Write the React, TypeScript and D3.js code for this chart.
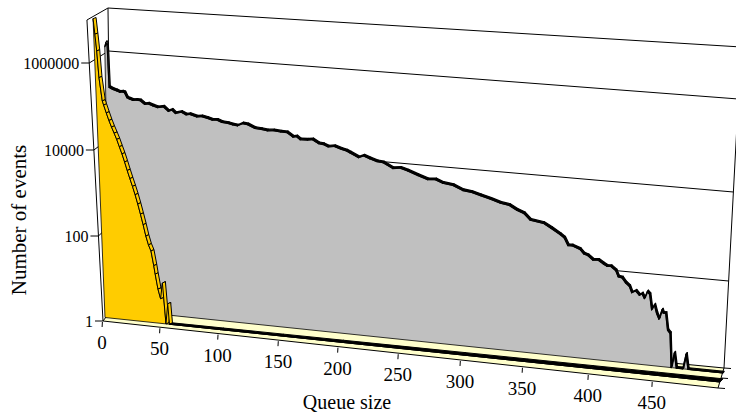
import React from "react";
import * as d3 from "d3";

const queueTicks = [0, 50, 100, 150, 200, 250, 300, 350, 400, 450];
const eventTicks = [1, 100, 10000, 1000000];

const grayQueue = [
  0, 1, 2, 3, 6, 9, 12, 14, 16, 18, 20, 23, 26, 29, 33, 36, 40, 44, 49, 53, 56, 59, 64, 68, 71, 77, 81, 86, 90, 94, 98, 103, 107, 111, 115, 119, 125, 130, 135, 140, 146, 151, 156, 159,
  162, 168, 172, 177, 181, 185, 190, 196, 200, 203, 210, 214, 219, 225, 230, 238, 244, 250, 258, 266, 272, 278, 286, 294, 301, 308, 316, 324, 331, 337, 343, 348, 358,
  364, 371, 374, 377, 380, 386, 389, 392, 396, 400, 404, 407, 410, 414, 416, 419, 422, 425, 427, 430, 433, 435, 437, 439, 441, 443, 445, 447, 449, 451, 452, 454, 456, 458,
  460, 462, 464, 469, 471, 473, 500,
];
const grayEvents = [
  1260000, 1580000, 1410000, 148000, 135000, 128000, 120000, 124000, 120000, 93000, 88000, 83000, 86000, 85000, 71000, 74000, 68000, 64000, 68000, 55000, 60000, 51000, 56000, 50000, 52000, 47000, 49000, 46000, 43000, 44000, 40000, 39000, 37000, 36000, 41000, 40000, 34000, 33500, 32000, 33000, 32000, 32000, 26000, 27000,
  23500, 24000, 25000, 21000, 20500, 18600, 19500, 17400, 16500, 15100, 12300, 13800, 12300, 11000, 10700, 8300, 8800, 7900, 6500, 5500, 5700, 4900, 4600, 3700, 3500, 3100, 2700, 2300, 2150, 1740, 1500, 1100, 1000,
  800, 600, 520, 355, 360, 310, 250, 235, 190, 195, 165, 148, 150, 123, 91, 88, 68, 58, 42, 47, 38, 42, 33, 48, 42, 19, 25, 16, 12, 20, 17, 17, 7, 6,
  1, 2.2, 1, 1, 2.2, 1, 1,
];

const yellowQueue = [0, 1, 2, 3, 5, 6, 8, 10, 12, 14, 16, 18, 20, 22, 24, 26, 28, 30, 32, 34, 36, 38, 40, 42, 44, 45, 47, 49, 51, 53, 55, 56, 100, 150, 200, 250, 300, 350, 400, 450, 500];
const yellowEvents = [8900000, 3900000, 1600000, 390000, 115000, 93000, 62000, 42000, 30000, 22000, 16000, 11000, 7600, 5000, 3200, 2100, 1400, 910, 560, 330, 190, 105, 66, 48, 22, 14, 6.3, 3.8, 9, 1, 3, 1, 1, 1, 1, 1, 1, 1, 1, 1, 1];

const W = 736;
const H = 414;
const FONT = "'Liberation Serif', 'Times New Roman', serif";

// perspective-ish mapping of the queue axis
const uScale = d3.scaleLinear().domain([0, 50, 100, 150, 200, 250, 300, 350, 400, 450, 500])
  .range([0, 0.0935, 0.188, 0.286, 0.383, 0.481, 0.582, 0.683, 0.79, 0.894, 1]);
const decades = [0, 2, 4, 6, 7];
const heightLeft = d3.scaleLinear().domain(decades).range([0, 85, 171, 258, 301]);
const heightRight = d3.scaleLinear().domain(decades).range([0, 87, 176, 269, 321]);

type Plane = { x0: number; y0: number; x1: number; y1: number; tL: number; tR: number };
const frontPlane: Plane = { x0: 103, y0: 321, x1: 718, y1: 388, tL: -16, tR: 16 };
const backPlane: Plane = { x0: 112, y0: 309, x1: 724, y1: 368, tL: -4, tR: 16 };
const grayPlane: Plane = { x0: 110, y0: 309, x1: 723, y1: 373, tL: -6, tR: 16 };
const yellowPlane: Plane = { x0: 105, y0: 317.5, x1: 720, y1: 382, tL: -12, tR: 16 };

const lerp = (a: number, b: number, t: number) => a + (b - a) * t;
function proj(p: Plane, q: number, v: number): [number, number] {
  const u = uScale(q);
  const L = Math.log10(v);
  const h = lerp(heightLeft(L), heightRight(L), u);
  const tilt = (lerp(p.tL, p.tR, u) * h) / 300;
  return [lerp(p.x0, p.x1, u) + tilt, lerp(p.y0, p.y1, u) - h];
}
const line = d3.line<[number, number]>();
const closed = (pts: [number, number][]) => (line(pts) as string) + "Z";

function Series({ plane, qs, vs, fill, dx, dy0, dy1, solidFrom, sw }: { plane: Plane; qs: number[]; vs: number[]; fill: string; dx: number; dy0: number; dy1: number; solidFrom: number; sw: number }) {
  const top = qs.map((q, i) => proj(plane, q, vs[i]));
  const area: [number, number][] = [proj(plane, qs[0], 1), ...top, proj(plane, qs[qs.length - 1], 1)];
  const off = (q: number, p: [number, number]): [number, number] => [p[0] + dx, p[1] - lerp(dy0, dy1, uScale(q))];
  return (
    <g>
      <path d={closed(area)} fill={fill} stroke="#000" strokeWidth={0.8} />
      {top.slice(0, -1).map((p, i) => {
        const flat = (vs[i] <= 1 && vs[i + 1] <= 1) || qs[i] >= solidFrom;
        return (
          <path
            key={i}
            d={closed([p, top[i + 1], off(qs[i + 1], top[i + 1]), off(qs[i], p)])}
            fill={flat ? "#000" : fill}
            stroke="#000"
            strokeWidth={sw}
            strokeLinejoin="round"
          />
        );
      })}
    </g>
  );
}

export default function App() {
  const floor = closed([proj(frontPlane, 0, 1), proj(frontPlane, 500, 1), proj(backPlane, 500, 1), proj(backPlane, 0, 1)]);
  const ln = (a: [number, number], b: [number, number], w = 1, key?: string | number) => (
    <path key={key} d={line([a, b]) as string} stroke="#000" strokeWidth={w} fill="none" />
  );
  return (
    <svg width={W} height={H} style={{ position: "absolute", left: 0, top: 0, background: "#fff" }} fontFamily={FONT} fill="#000">
      {/* walls */}
      {ln(proj(frontPlane, 0, 1), proj(frontPlane, 0, 1e7))}
      {ln(proj(frontPlane, 0, 1e7), proj(backPlane, 0, 1e7))}
      {ln(proj(backPlane, 0, 1), proj(backPlane, 0, 1e7))}
      {ln(proj(backPlane, 0, 1e7), proj(backPlane, 500, 1e7))}
      {ln(proj(backPlane, 500, 1), proj(backPlane, 500, 1e7))}
      {eventTicks.slice(1).map((t) => (
        <g key={t}>
          {ln(proj(frontPlane, 0, t), proj(backPlane, 0, t))}
          {ln(proj(backPlane, 0, t), proj(backPlane, 500, t))}
        </g>
      ))}
      <path d={floor} fill="#FFFFCC" stroke="#000" strokeWidth={1} />
      <Series plane={grayPlane} qs={grayQueue} vs={grayEvents} fill="#C0C0C0" dx={1.2} dy0={1.6} dy1={1.6} solidFrom={3} sw={1.2} />
      <Series plane={yellowPlane} qs={yellowQueue} vs={yellowEvents} fill="#FFCC00" dx={3} dy0={1.2} dy1={3.2} solidFrom={600} sw={1} />
      {/* y ticks */}
      {eventTicks.map((t) => {
        const [x, y] = proj(frontPlane, 0, t);
        return (
          <g key={t}>
            {ln([x - 8, y], [x, y])}
            <text x={x - 10} y={y + 5.5} fontSize={16} textAnchor="end">{t}</text>
          </g>
        );
      })}
      {/* x ticks */}
      {queueTicks.map((t) => {
        const [x, y] = proj(frontPlane, t, 1);
        return (
          <g key={t}>
            {ln([x - 0.6, y + 1], [x - 0.9, y + 6])}
            <text x={x - 1} y={y + 28} fontSize={19} textAnchor="middle">{t}</text>
          </g>
        );
      })}
      {/* depth ticks */}
      {[0, 0.5, 1].map((f) => {
        const a = proj(frontPlane, 500, 1);
        const b = proj(backPlane, 500, 1);
        const x = lerp(a[0], b[0], f);
        const y = lerp(a[1], b[1], f);
        return <g key={f}>{ln([x, y], [x + 7, y + 0.5])}</g>;
      })}
      <text x={347} y={409} fontSize={20} textAnchor="middle">Queue size</text>
      <text transform="translate(26,220) rotate(-90)" fontSize={21} textAnchor="middle">Number of events</text>
    </svg>
  );
}
